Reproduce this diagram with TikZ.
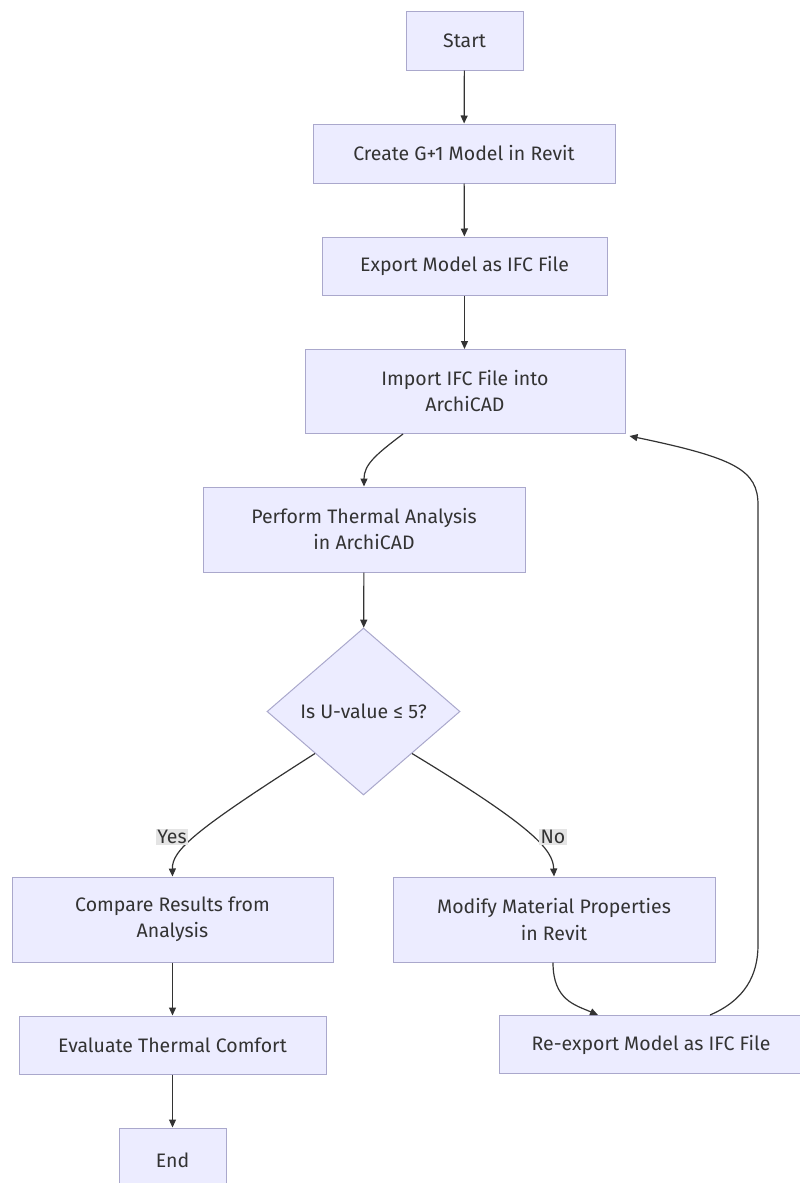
\documentclass[tikz,border=0pt]{standalone}
\usepackage{fontspec}
\setmainfont{Fira Sans}
\usepackage{tikz}
\usetikzlibrary{shapes.geometric, arrows.meta, positioning}
\definecolor{boxfill}{RGB}{236,236,255}
\definecolor{boxedge}{RGB}{170,168,204}
\definecolor{linkgray}{RGB}{51,51,51}
\definecolor{textgray}{RGB}{51,51,51}
\definecolor{lblgray}{RGB}{228,228,228}
\tikzset{
  stepbox/.style={rectangle, draw=boxedge, fill=boxfill, align=center,
    inner sep=0pt, line width=1pt, text=textgray,
    font=\fontsize{19.5}{26}\selectfont},
  decidebox/.style={diamond, draw=boxedge, fill=boxfill, align=center,
    inner sep=0pt, line width=1pt, text=textgray, aspect=1.16,
    minimum width=193, minimum height=167,
    font=\fontsize{19.5}{26}\selectfont},
  edgelbl/.style={fill=lblgray, text=textgray, inner sep=1.5pt,
    font=\fontsize{19.5}{22}\selectfont},
  arrow/.style={-{Triangle[length=8pt, width=7pt]}, line width=1.2pt, color=linkgray}
}

\begin{document}
\begin{tikzpicture}[x=1pt, y=-1pt]
  \useasboundingbox (0,0) rectangle (800,1183);

  % main column
  \node[stepbox, minimum width=117, minimum height=59] (start) at (464.5,40.5) {Start};
  \node[stepbox, minimum width=302, minimum height=59] (create) at (464,153.5) {Create G+1 Model in Revit};
  \node[stepbox, minimum width=285, minimum height=58] (export) at (464.5,266) {Export Model as IFC File};
  \node[stepbox, minimum width=320, minimum height=84] (import) at (465,391.5) {Import IFC File into\\ArchiCAD};
  \node[stepbox, minimum width=322, minimum height=85] (perform) at (364,529.5) {Perform Thermal Analysis\\in ArchiCAD};
  \node[decidebox] (check) at (363.5,711.5) {Is U-value ≤ 5?};

  % yes branch
  \node[stepbox, minimum width=321, minimum height=85] (compare) at (172.5,919.5) {Compare Results from\\Analysis};
  \node[stepbox, minimum width=307, minimum height=58] (evaluate) at (172.5,1045) {Evaluate Thermal Comfort};
  \node[stepbox, minimum width=107, minimum height=64] (finish) at (172.5,1160) {End};

  % no branch
  \node[stepbox, minimum width=322, minimum height=85] (modify) at (554,919.5) {Modify Material Properties\\in Revit};
  \node[stepbox, minimum width=304, minimum height=58] (reexport) at (651,1044.5) {Re-export Model as IFC File};

  % Connections
  \draw[arrow] (start) -- (create);
  \draw[arrow] (create) -- (export);
  \draw[arrow] (export) -- (import.north -| export);
  \draw[arrow] ([xshift=-62]import.south) .. controls (375,455) and (364,465) .. (perform.north);
  \draw[arrow] (perform) -- (check);
  \draw[arrow] (check.south west) .. controls (195,830) and (172,850) .. (compare.north);
  \draw[arrow] (check.south east) .. controls (535,828) and (553,850) .. (modify.north);
  \draw[arrow] (compare) -- (evaluate);
  \draw[arrow] (evaluate) -- (finish);
  \draw[arrow] ([xshift=-1]modify.south) .. controls (553,1000) and (575,1005) .. ([xshift=-53]reexport.north);

  % loop back
  \coordinate (loopbot) at (758,945);
  \coordinate (looptop) at (758,505);
  \draw[arrow] ([xshift=59]reexport.north) .. controls (745,1000) and (758,975) .. (loopbot)
    -- (looptop) .. controls (758,470) and (735,458) .. ([xshift=4,yshift=-2]import.south east);

  % branch labels
  \node[edgelbl] (yes) at (172,837) {Yes};
  \node[edgelbl] (no) at (553,837) {No};
\end{tikzpicture}
\end{document}
